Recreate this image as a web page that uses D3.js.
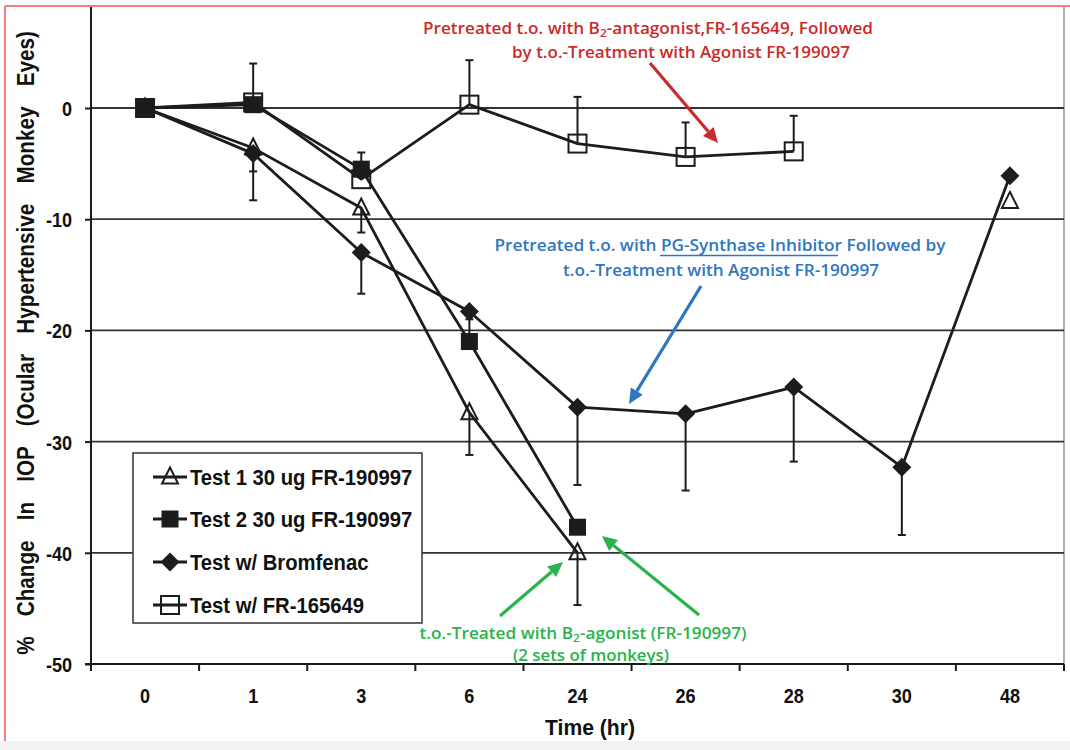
<!DOCTYPE html>
<html><head><meta charset="utf-8">
<script src="https://cdn.jsdelivr.net/npm/d3@7"></script>
<style>body{margin:0;background:#fff}svg{display:block}</style>
</head><body>
<svg id="c" width="1070" height="750"></svg>
<script>
// ---- data ----
const categories = ["0","1","3","6","24","26","28","30","48"];
const yTicks = [0,-10,-20,-30,-40,-50];
const test1     = [0, -3.6, -9.0, -27.4, -40.0, null, null, null, -8.4];
const test1Err  = [null, -5.7, -11.2, -31.2, -44.7, null, null, null, null];   // lower
const test2     = [0, 0.3, -5.5, -21.0, -37.7, null, null, null, null];
const test2Err  = [null, null, -4.0, -19.0, null, null, null, null, null];     // upper
const bromfenac = [0, -4.1, -13.0, -18.3, -26.9, -27.5, -25.1, -32.3, -6.1];
const bromErr   = [null, -8.3, -16.7, null, -33.9, -34.4, -31.8, -38.4, null]; // lower
const fr165649  = [0, 0.5, -6.4, 0.3, -3.2, -4.4, -3.9, null, null];
const frErr     = [null, 4.0, null, 4.3, 1.0, -1.3, -0.7, null, null];         // upper
const legendLabels = ["Test 1 30 ug FR-190997","Test 2 30 ug FR-190997","Test w/ Bromfenac","Test w/ FR-165649"];

const svg = d3.select("#c");
const L = 91, R = 1064, T = 7, B = 664;
const x = d3.scaleBand().domain(categories).range([L, R]).padding(0);
const y = d3.scaleLinear().domain([-50, 10]).range([B, B - 60*11.12]);
const cx = c => x(c) + x.bandwidth()/2;
const ink = "#1c1c1c";
const axisFont = "'Liberation Sans',Arial,sans-serif";
const noteFont = "'Open Sans',Lato,sans-serif";
// condense bold sans text to imitate a narrow face
function narrow(sel, k){ sel.each(function(){ const w=this.getComputedTextLength(); d3.select(this).attr("textLength",w*k).attr("lengthAdjust","spacingAndGlyphs"); }); }

// frame
svg.append("rect").attr("x",0).attr("y",741).attr("width",1070).attr("height",9).attr("fill","#f2f2f2");
svg.append("line").attr("x1",5).attr("x2",5).attr("y1",6).attr("y2",741).attr("stroke","#f08080").attr("stroke-width",2);
svg.append("line").attr("x1",5).attr("x2",1070).attr("y1",6).attr("y2",6).attr("stroke","#f08080").attr("stroke-width",2);
svg.append("line").attr("x1",R).attr("x2",R).attr("y1",T).attr("y2",B).attr("stroke","#8a9a8a").attr("stroke-width",1.5);

// grid
svg.append("g").selectAll("line").data(yTicks.filter(d=>d>-50)).join("line")
  .attr("x1",L).attr("x2",R).attr("y1",d=>y(d)).attr("y2",d=>y(d))
  .attr("stroke","#333").attr("stroke-width",1.8);

// y axis
const ya = svg.append("g").attr("transform",`translate(${L},0)`)
  .call(d3.axisLeft(y).tickValues(yTicks).tickSize(6).tickPadding(13).tickFormat(d=>String(d)));
ya.select(".domain").remove();
ya.append("line").attr("x1",0).attr("x2",0).attr("y1",T).attr("y2",B).attr("stroke",ink).attr("stroke-width",2);
ya.selectAll(".tick line").attr("stroke",ink).attr("stroke-width",2);
ya.selectAll(".tick text").attr("font-family",axisFont).attr("font-weight","bold").attr("font-size",21).attr("fill","#111").attr("dy","0.36em");
narrow(ya.selectAll(".tick text"), 0.86);

// x axis
const xa = svg.append("g").attr("transform",`translate(0,${B})`);
xa.append("line").attr("x1",L-6).attr("x2",R).attr("y1",0).attr("y2",0).attr("stroke",ink).attr("stroke-width",2);
xa.selectAll("line.tk").data(categories.concat(["__end"])).join("line").attr("class","tk")
  .attr("x1",(d,i)=> i<categories.length ? x(d) : R).attr("x2",(d,i)=> i<categories.length ? x(d) : R)
  .attr("y1",0).attr("y2",7).attr("stroke",ink).attr("stroke-width",2);
const xt = xa.selectAll("text").data(categories).join("text")
  .attr("x",d=>cx(d)).attr("y",39).attr("text-anchor","middle")
  .attr("font-family",axisFont).attr("font-weight","bold").attr("font-size",21).attr("fill","#111").text(d=>d);
narrow(xt, 0.86);

svg.append("text").attr("x",590).attr("y",735).attr("text-anchor","middle")
  .attr("font-family",axisFont).attr("font-weight","bold").attr("font-size",22).attr("fill","#111")
  .attr("textLength",90).attr("lengthAdjust","spacingAndGlyphs").text("Time  (hr)");
svg.append("text").attr("transform","translate(34,343) rotate(-90) scale(0.9,1)").attr("text-anchor","middle")
  .attr("font-family",axisFont).attr("font-weight","bold").attr("font-size",23).attr("fill","#111")
  .attr("word-spacing",16)
  .text("% Change In IOP (Ocular Hypertensive Monkey Eyes)");

// series
const series = [
  {v:test1, err:test1Err, sym:"tri"},
  {v:test2, err:test2Err, sym:"sqf"},
  {v:bromfenac, err:bromErr, sym:"dia"},
  {v:fr165649, err:frErr, sym:"sqo"}
];
const line = d3.line().defined(d=>d.v!=null).x(d=>cx(d.c)).y(d=>y(d.v));
const gErr = svg.append("g"), gLine = svg.append("g"), gMark = svg.append("g");
function marker(g, sym, px, py){
  if(sym==="tri") g.append("path").attr("d",`M${px},${py-9.5}L${px+8},${py+6.5}L${px-8},${py+6.5}Z`).attr("fill","none").attr("stroke",ink).attr("stroke-width",2);
  if(sym==="sqf") g.append("rect").attr("x",px-8.5).attr("y",py-8.5).attr("width",17).attr("height",17).attr("fill",ink);
  if(sym==="sqo") g.append("rect").attr("x",px-9).attr("y",py-9).attr("width",18).attr("height",18).attr("fill","none").attr("stroke",ink).attr("stroke-width",2);
  if(sym==="dia") g.append("path").attr("d",`M${px},${py-9.5}L${px+9.5},${py}L${px},${py+9.5}L${px-9.5},${py}Z`).attr("fill",ink);
}
series.forEach(s=>{
  const pts = categories.map((c,i)=>({c, v:s.v[i], e:s.err[i]}));
  gLine.append("path").datum(pts).attr("d",line).attr("fill","none").attr("stroke",ink).attr("stroke-width",2.8).attr("stroke-linejoin","round");
  pts.filter(p=>p.v!=null && p.e!=null).forEach(p=>{
    gErr.append("line").attr("x1",cx(p.c)).attr("x2",cx(p.c)).attr("y1",y(p.v)).attr("y2",y(p.e)).attr("stroke",ink).attr("stroke-width",2);
    gErr.append("line").attr("x1",cx(p.c)-4).attr("x2",cx(p.c)+4).attr("y1",y(p.e)).attr("y2",y(p.e)).attr("stroke",ink).attr("stroke-width",2);
  });
  pts.filter(p=>p.v!=null).forEach(p=>marker(gMark, s.sym, cx(p.c), y(p.v)));
});

// legend
const lg = svg.append("g");
lg.append("rect").attr("x",133).attr("y",453).attr("width",289).attr("height",170).attr("fill","#fff").attr("stroke","#333").attr("stroke-width",1.5);
const rowY = [477,519,562,605];
legendLabels.forEach((t,i)=>{
  lg.append("line").attr("x1",153).attr("x2",187).attr("y1",rowY[i]).attr("y2",rowY[i]).attr("stroke",ink).attr("stroke-width",2.8);
  marker(lg, series[i].sym, 170, rowY[i]);
  const tx = lg.append("text").attr("x",190).attr("y",rowY[i]+8).attr("font-family",axisFont).attr("font-weight","bold").attr("font-size",22).attr("fill","#111").text(t);
  narrow(tx, 0.92);
});

// annotations
function arrow(x1,y1,x2,y2,col){
  const a = Math.atan2(y2-y1,x2-x1), hl=15, hw=7;
  const bx = x2 - hl*Math.cos(a), by = y2 - hl*Math.sin(a);
  svg.append("line").attr("x1",x1).attr("y1",y1).attr("x2",bx).attr("y2",by).attr("stroke",col).attr("stroke-width",3.2);
  svg.append("path").attr("d",`M${x2},${y2}L${bx+hw*Math.sin(a)},${by-hw*Math.cos(a)}L${bx-hw*Math.sin(a)},${by+hw*Math.cos(a)}Z`).attr("fill",col);
}
function note(parts, xC, yB, len, col){
  const t = svg.append("text").attr("x",xC).attr("y",yB).attr("text-anchor","middle")
    .attr("font-family",noteFont).attr("font-weight",600).attr("font-size",16.5).attr("fill",col)
    .attr("textLength",len).attr("lengthAdjust","spacingAndGlyphs");
  parts.forEach(p=>{
    if(typeof p==="string") t.append("tspan").text(p);
    else t.append("tspan").attr("font-size",11.5).attr("baseline-shift","-3").text(p.sub);
  });
}
const red="#cc2a2a", blue="#2f76c0", green="#2ab34a";
note(["Pretreated t.o. with B",{sub:"2"},"-antagonist,FR-165649, Followed"],648,34,450,red);
note(["by t.o.-Treatment with Agonist FR-199097"],681,58,338,red);
arrow(650,63,718,143,red);

note(["Pretreated t.o. with PG-Synthase Inhibitor  Followed by"],720,251,451,blue);
note(["t.o.-Treatment with Agonist FR-190997"],721,276,316,blue);
svg.append("line").attr("x1",660).attr("x2",838).attr("y1",255.5).attr("y2",255.5).attr("stroke",blue).attr("stroke-width",1.3);
arrow(701,286,629,404,blue);

note(["t.o.-Treated with B",{sub:"2"},"-agonist (FR-190997)"],583,639,327,green);
note(["(2 sets of monkeys)"],591,661,156,green);
arrow(500,616,563,562,green);
arrow(699,615,602,536,green);
</script>
</body></html>
